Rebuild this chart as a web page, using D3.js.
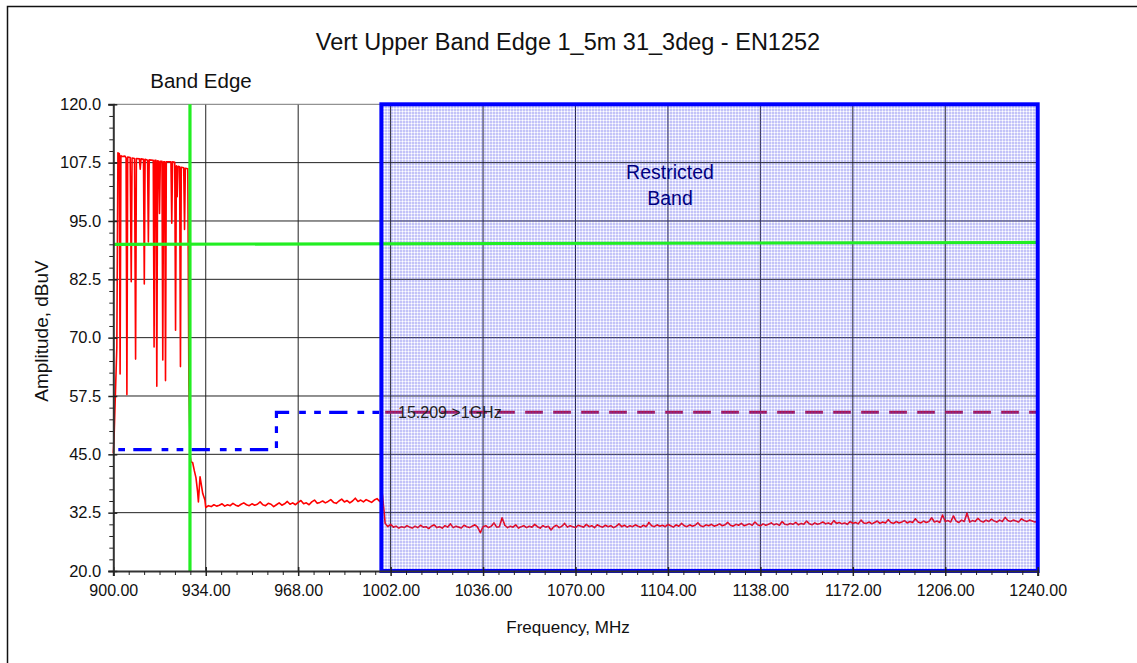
<!DOCTYPE html>
<html><head><meta charset="utf-8">
<script src="https://cdn.jsdelivr.net/npm/d3@7/dist/d3.min.js"></script>
<style>body{margin:0;background:#fff}svg{display:block;font-family:Arial,"Liberation Sans",sans-serif}</style>
</head><body><svg id="c" width="1137" height="663"></svg>
<script>
// ---------- data ----------
const xTicks=[900,934,968,1002,1036,1070,1104,1138,1172,1206,1240];
const yTicks=[20,32.5,45,57.5,70,82.5,95,107.5,120];
const title="Vert Upper Band Edge 1_5m 31_3deg - EN1252";
const xLabel="Frequency, MHz";
const yLabel="Amplitude, dBuV";

// band-edge sweep (MHz, dBuV)
const edgeFreq=[900.0,900.3,901.3,901.7,902.2,902.5,902.8,903.2,904.3,904.7,905.0,905.3,906.2,906.6,906.9,907.8,908.2,908.5,909.6,909.9,910.2,911.1,911.4,911.7,912.6,912.9,913.2,914.7,915.0,915.3,915.7,916.0,916.3,916.7,917.0,917.3,917.9,918.2,918.5,918.9,919.2,919.5,921.2,921.5,921.8,922.6,922.9,923.2,923.5,923.8,924.4,924.7,925.0,925.9,926.2,926.5,927.4,927.8,928.3,928.6,929.2,929.8,930.4,931.0,931.3,931.9,932.9,933.7];
const edgeAmp=[45.2,49.0,68.0,109.6,109.4,62.2,109.0,108.8,108.9,108.5,57.8,108.7,108.6,82.0,108.5,108.4,65.4,108.4,108.3,106.1,108.3,108.2,81.5,108.2,108.0,90.5,108.1,108.0,68.0,108.0,108.0,59.6,107.9,107.8,96.6,107.8,107.8,65.2,107.7,107.7,60.8,107.7,107.7,94.5,107.7,107.6,71.6,106.8,100.2,106.7,106.6,63.8,106.5,106.4,93.2,106.3,106.2,60.0,44.5,43.4,43.2,41.5,40.0,37.0,34.8,40.2,36.6,35.2];

// noise floor 934..999 MHz, 1 MHz sweep step
const lowStart=934;
const lowAmp=[33.6,34.0,33.8,34.2,33.9,34.1,34.4,33.9,34.2,34.0,
34.5,34.1,33.9,34.3,34.6,34.2,34.0,34.4,34.1,34.3,
34.8,34.2,34.0,34.5,34.3,33.8,34.2,34.6,34.1,34.4,
34.9,34.3,34.6,34.2,34.7,35.1,34.4,34.6,34.2,34.8,
35.2,34.5,34.7,35.0,34.6,34.9,35.3,34.7,34.5,35.0,
35.4,34.8,35.1,34.6,35.0,35.6,34.9,35.2,34.8,35.3,
35.0,34.7,35.2,35.5,34.9,36.3];

// noise floor 1000..1240 MHz, 1 MHz sweep step
const highStart=1000;
const highAmp=[30.2,29.5,30.0,29.4,29.6,29.2,29.5,29.3,29.7,29.4,29.2,29.6,
29.3,29.8,29.4,29.5,29.1,29.6,29.9,29.3,29.5,29.2,
29.7,29.4,30.1,29.3,29.6,29.4,29.2,29.8,29.5,29.3,
29.6,29.9,29.4,28.2,29.5,29.7,29.3,29.6,30.3,29.4,
29.5,31.4,29.8,29.3,29.6,29.4,29.9,29.2,29.5,29.7,
29.3,29.6,29.4,30.0,29.5,29.2,29.7,29.4,29.6,28.8,
29.5,29.8,29.3,29.6,30.2,29.4,29.7,29.5,29.3,29.8,
29.6,29.4,30.0,29.5,29.7,29.3,29.9,29.6,29.4,29.8,
29.5,29.7,29.3,29.6,30.1,29.5,29.8,29.4,29.7,29.5,
29.9,29.6,29.4,29.8,29.5,30.4,29.7,29.5,29.9,29.6,
29.8,29.5,30.0,29.7,29.4,29.9,29.6,30.2,29.7,29.5,
29.9,29.6,29.8,30.3,29.7,29.5,29.9,29.7,30.0,29.6,
29.8,30.1,29.7,29.9,30.4,29.8,29.6,30.0,29.8,30.2,
29.7,29.9,30.1,29.8,30.5,29.9,29.7,30.1,29.8,30.0,
30.3,29.9,30.1,29.8,30.6,30.0,29.9,30.2,30.0,30.4,
29.9,30.2,30.0,30.7,30.1,29.9,30.3,30.0,30.2,30.5,
30.1,30.3,30.0,30.8,30.2,30.4,30.1,30.3,30.0,30.6,
30.2,30.4,30.1,30.9,30.3,30.2,30.5,30.1,30.4,30.7,
30.2,30.5,30.3,31.0,30.4,30.2,30.6,30.3,30.5,30.8,
30.3,30.6,30.4,31.2,30.5,30.3,30.7,30.4,30.6,31.4,
30.5,30.7,30.4,32.0,30.6,30.8,30.5,31.8,30.7,30.4,
30.9,30.6,32.4,30.5,30.8,30.6,31.3,30.7,30.5,30.9,
30.6,31.1,30.7,30.5,30.9,30.6,31.5,30.8,30.6,30.9,
30.7,30.5,31.2,30.8,30.6,30.9,30.7,30.5,30.8];

// limit lines
const limitLowFreq=[900,960,960,1000];
const limitLowAmp=[46.0,46.0,54.0,54.0];
const limitHighFreq=[1000,1240];
const limitHighAmp=[54.0,54.0];
const bandEdgeFreq=928.2;
const greenFreq=[900,1240];
const greenAmp=[90.0,90.4];
const restrictedBand=[998.6,1240];

// ---------- drawing ----------
const FONT="Arial,'Liberation Sans',sans-serif";
const svg=d3.select("#c");
const x=d3.scaleLinear().domain([900,1240]).range([113.3,1037.7]);
const y=d3.scaleLinear().domain([20,120]).range([571,104.3]);

svg.append("rect").attr("width",1137).attr("height",663).attr("fill","#fff");
svg.append("rect").attr("x",7.5).attr("y",6.5).attr("width",1300).attr("height",800)
  .attr("fill","none").attr("stroke","#111").attr("stroke-width",1.5);

const defs=svg.append("defs");
const pat=defs.append("pattern").attr("id","hatch").attr("patternUnits","userSpaceOnUse")
  .attr("width",3).attr("height",3);
pat.append("rect").attr("x",1).attr("y",1).attr("width",2).attr("height",2).attr("fill","rgba(80,80,235,0.34)");
pat.append("rect").attr("x",1).attr("y",0).attr("width",2).attr("height",1).attr("fill","rgba(80,80,235,0.14)");
pat.append("rect").attr("x",0).attr("y",1).attr("width",1).attr("height",2).attr("fill","rgba(80,80,235,0.14)");

// gridlines
const g=svg.append("g");
g.selectAll(".vg").data(xTicks.slice(1)).join("line")
  .attr("x1",d=>x(d)).attr("x2",d=>x(d)).attr("y1",y(20)).attr("y2",y(120))
  .attr("stroke","#222").attr("stroke-width",1);
g.selectAll(".hg").data(yTicks.slice(1)).join("line")
  .attr("x1",x(900)).attr("x2",x(1240)).attr("y1",d=>y(d)).attr("y2",d=>y(d))
  .attr("stroke",d=>d===120?"#777":"#222").attr("stroke-width",1);

// blue dash-dot limit
svg.append("path").datum(limitLowFreq.map((f,i)=>[f,limitLowAmp[i]]))
  .attr("d",d3.line().x(d=>x(d[0])).y(d=>y(d[1])))
  .attr("fill","none").attr("stroke","#0000ff").attr("stroke-width",3.2)
  .attr("stroke-dasharray","18.3,10,6.7,8.3,6.7,8.3").attr("stroke-dashoffset",38.3);

// trace
const trace=[];
edgeFreq.forEach((f,i)=>trace.push([f,edgeAmp[i]]));
lowAmp.forEach((a,i)=>trace.push([lowStart+i,a]));
highAmp.forEach((a,i)=>trace.push([highStart+i,a]));
svg.append("path").datum(trace)
  .attr("d",d3.line().x(d=>x(d[0])).y(d=>y(d[1])))
  .attr("fill","none").attr("stroke","#ff0000").attr("stroke-width",1.6).attr("stroke-linejoin","round");

// dark red dashed limit
svg.append("path").datum(limitHighFreq.map((f,i)=>[f,limitHighAmp[i]]))
  .attr("d",d3.line().x(d=>x(d[0])).y(d=>y(d[1])))
  .attr("fill","none").attr("stroke","#b0104a").attr("stroke-width",3)
  .attr("stroke-dasharray","17.7,10.3");

// restricted band hatch
svg.append("rect").attr("x",x(restrictedBand[0])).attr("y",y(120))
  .attr("width",x(restrictedBand[1])-x(restrictedBand[0])).attr("height",y(20)-y(120))
  .attr("fill","url(#hatch)");

// green lines
svg.append("line").attr("x1",x(bandEdgeFreq)).attr("x2",x(bandEdgeFreq)).attr("y1",y(120)).attr("y2",y(20))
  .attr("stroke","#22ee22").attr("stroke-width",3.2);
svg.append("path").datum(greenFreq.map((f,i)=>[f,greenAmp[i]]))
  .attr("d",d3.line().x(d=>x(d[0])).y(d=>y(d[1])))
  .attr("fill","none").attr("stroke","#22ee22").attr("stroke-width",3.2);

// blue band border
svg.append("rect").attr("x",x(restrictedBand[0])).attr("y",y(120))
  .attr("width",x(restrictedBand[1])-x(restrictedBand[0])).attr("height",y(20)-y(120))
  .attr("fill","none").attr("stroke","#0000ff").attr("stroke-width",4);

// axes
const fmtX=d3.format(".2f"), fmtY=d3.format(".1f");
const xMinor=d3.range(0,61).map(i=>900+i*340/60).filter(v=>!xTicks.some(t=>Math.abs(t-v)<0.01));
const yMinor=d3.range(0,41).map(i=>20+i*2.5).filter(v=>!yTicks.some(t=>Math.abs(t-v)<0.01));
const ax=svg.append("g").attr("transform",`translate(0,${y(20)})`)
  .call(d3.axisBottom(x).tickValues(xTicks).tickFormat(fmtX).tickSize(5).tickPadding(9));
ax.select(".domain").attr("stroke","#333").attr("stroke-width",2);
ax.selectAll("line").attr("stroke","#222").attr("stroke-width",1.5);
ax.selectAll("text").attr("font-size",16).attr("fill","#111").attr("font-family",FONT);
const axm=svg.append("g").attr("transform",`translate(0,${y(20)})`)
  .call(d3.axisBottom(x).tickValues(xMinor).tickFormat("").tickSize(4));
axm.select(".domain").remove();axm.selectAll("line").attr("stroke","#222");
const axu=svg.append("g").attr("transform",`translate(0,${y(20)})`)
  .call(d3.axisTop(x).tickValues(xTicks).tickFormat("").tickSize(4));
axu.select(".domain").remove();axu.selectAll("line").attr("stroke","#222").attr("stroke-width",1.5);

const ay=svg.append("g").attr("transform",`translate(${x(900)},0)`)
  .call(d3.axisLeft(y).tickValues(yTicks).tickFormat(fmtY).tickSize(5).tickPadding(7));
ay.select(".domain").attr("stroke","#333").attr("stroke-width",2);
ay.selectAll("line").attr("stroke","#222").attr("stroke-width",1.5);
ay.selectAll("text").attr("font-size",16.5).attr("fill","#111").attr("font-family",FONT);
const aym=svg.append("g").attr("transform",`translate(${x(900)},0)`)
  .call(d3.axisLeft(y).tickValues(yMinor).tickFormat("").tickSize(4));
aym.select(".domain").remove();aym.selectAll("line").attr("stroke","#222");
const ayr=svg.append("g").attr("transform",`translate(${x(900)},0)`)
  .call(d3.axisRight(y).tickValues(yTicks).tickFormat("").tickSize(4));
ayr.select(".domain").remove();ayr.selectAll("line").attr("stroke","#222").attr("stroke-width",1.5);

// texts
svg.append("text").attr("x",568).attr("y",50).attr("text-anchor","middle").attr("font-size",23.5).attr("fill","#111").text(title);
svg.append("text").attr("x",568).attr("y",633).attr("text-anchor","middle").attr("font-size",17).attr("fill","#111").text(xLabel);
svg.append("text").attr("transform","translate(48,331) rotate(-90)").attr("text-anchor","middle").attr("font-size",19).attr("fill","#111").text(yLabel);
svg.append("text").attr("x",201).attr("y",88).attr("text-anchor","middle").attr("font-size",20.5).attr("fill","#111").text("Band Edge");
const rb=svg.append("text").attr("x",670).attr("text-anchor","middle").attr("font-size",19.5).attr("fill","#000080");
rb.append("tspan").attr("x",670).attr("y",179).text("Restricted");
rb.append("tspan").attr("x",670).attr("y",205).text("Band");
svg.append("text").attr("x",398).attr("y",418).attr("font-size",16).attr("fill","#222").text("15.209 >1GHz");
</script></body></html>
